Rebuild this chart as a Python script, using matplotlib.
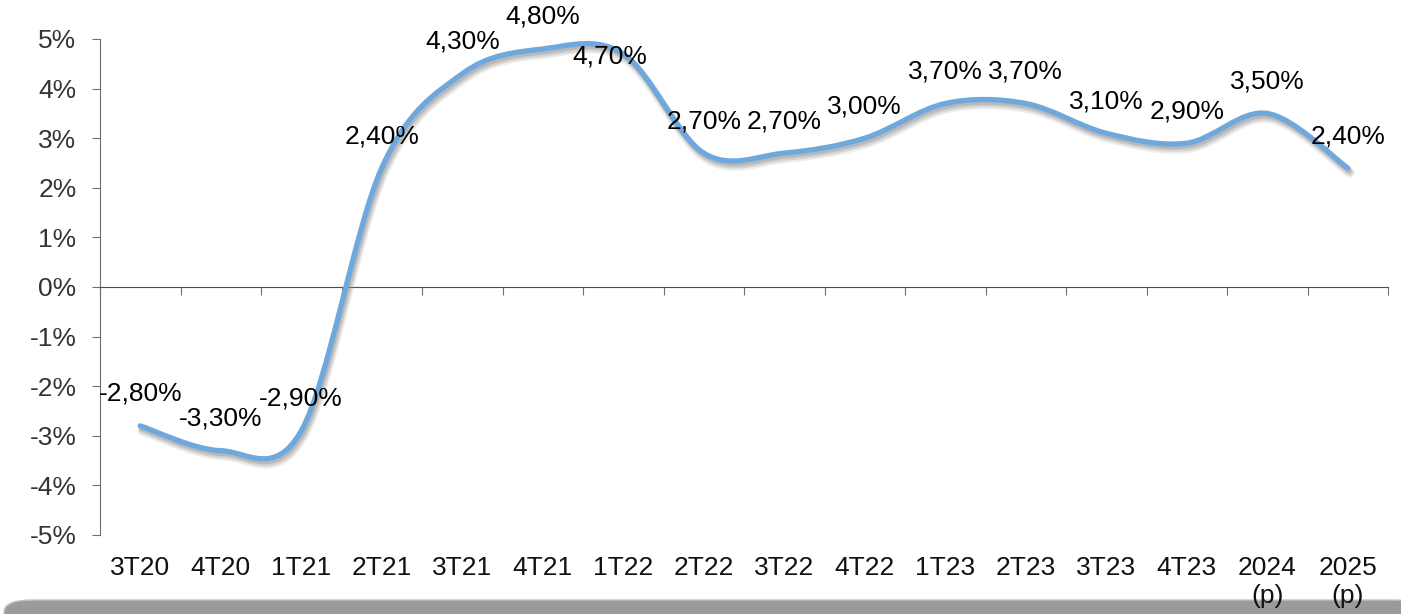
import matplotlib as mpl
mpl.use('Agg')
import matplotlib.pyplot as plt
import matplotlib.patheffects as pe
from matplotlib.path import Path
from matplotlib.patches import PathPatch, FancyBboxPatch
from matplotlib.ticker import FuncFormatter

plt.rcParams['font.family'] = ['Liberation Sans', 'DejaVu Sans']

categories = ['3T20', '4T20', '1T21', '2T21', '3T21', '4T21', '1T22', '2T22',
              '3T22', '4T22', '1T23', '2T23', '3T23', '4T23', '2024\n(p)', '2025\n(p)']
growth = [-2.8, -3.3, -2.9, 2.4, 4.3, 4.8, 4.7, 2.7,
          2.7, 3.0, 3.7, 3.7, 3.1, 2.9, 3.5, 2.4]

LINE_COLOR = '#6fa8dc'
AXIS_COLOR = '#6e6e6e'
FS = 19


def smooth_path(xs, ys):
    # Catmull-Rom segments written as cubic Bezier pieces (Excel-style smoothed line)
    n = len(xs)
    verts = [(xs[0], ys[0])]
    codes = [Path.MOVETO]
    for i in range(n - 1):
        x0, y0 = xs[max(i - 1, 0)], ys[max(i - 1, 0)]
        x1, y1 = xs[i], ys[i]
        x2, y2 = xs[i + 1], ys[i + 1]
        x3, y3 = xs[min(i + 2, n - 1)], ys[min(i + 2, n - 1)]
        c1 = (x1 + (x2 - x0) / 6, y1 + (y2 - y0) / 6)
        c2 = (x2 - (x3 - x1) / 6, y2 - (y3 - y1) / 6)
        verts += [c1, c2, (x2, y2)]
        codes += [Path.CURVE4] * 3
    return Path(verts, codes)


fig = plt.figure(figsize=(14.01, 6.14), dpi=100)
ax = fig.add_axes([100 / 1401, 79 / 614, 1288 / 1401, 496 / 614])

xs = list(range(len(categories)))
line = PathPatch(smooth_path(xs, growth), facecolor='none', edgecolor=LINE_COLOR,
                 lw=3.8, capstyle='round', joinstyle='round', zorder=3)
# soft drop shadow built from a few offset strokes
line.set_path_effects([
    pe.SimpleLineShadow(offset=(1.5, -3.5), shadow_color='#9a9a9a', alpha=0.18, linewidth=7),
    pe.SimpleLineShadow(offset=(1.5, -3.0), shadow_color='#8a8a8a', alpha=0.25, linewidth=5),
    pe.SimpleLineShadow(offset=(1.0, -2.0), shadow_color='#808080', alpha=0.3),
    pe.Normal(),
])
ax.add_patch(line)

for i, v in enumerate(growth):
    label = ('%.2f%%' % v).replace('.', ',')
    offset = (0, 23)
    if categories[i] == '1T22':
        offset = (-10, -2)
    ax.annotate(label, (i, v), xytext=offset, textcoords='offset points',
                ha='center', va='center', fontsize=FS, color='black', zorder=4)

ax.set_xlim(-0.5, len(categories) - 0.5)
ax.set_ylim(-5, 5)
ax.set_yticks(range(-5, 6))
ax.yaxis.set_major_formatter(FuncFormatter(lambda v, _: '%d%%' % v))

for side in ['top', 'right']:
    ax.spines[side].set_visible(False)
ax.spines['left'].set_color(AXIS_COLOR)
ax.spines['bottom'].set_position(('data', 0))
ax.spines['bottom'].set_color('#505050')

ax.set_xticks([k - 0.5 for k in range(len(categories) + 1)])
ax.set_xticklabels([])
ax.tick_params(axis='x', length=6, color=AXIS_COLOR, direction='out')
ax.tick_params(axis='y', length=6, color=AXIS_COLOR, pad=11,
               labelsize=FS, labelcolor='#333333')

cat_ax = ax.secondary_xaxis('bottom')
cat_ax.set_xticks(xs)
cat_ax.set_xticklabels(categories, fontsize=FS, color='#111111', linespacing=1.2)
cat_ax.tick_params(length=0, pad=15)
cat_ax.spines['bottom'].set_visible(False)

# grey footer band
band = FancyBboxPatch((4 / 1401, -20 / 614), 1420 / 1401, 34 / 614,
                      boxstyle='round,pad=0,rounding_size=0.02',
                      transform=fig.transFigure, facecolor='#9b9b9b',
                      edgecolor='#c4c4c4', lw=1, zorder=-1)
fig.patches.append(band)

fig.savefig('out.png', dpi=100)
